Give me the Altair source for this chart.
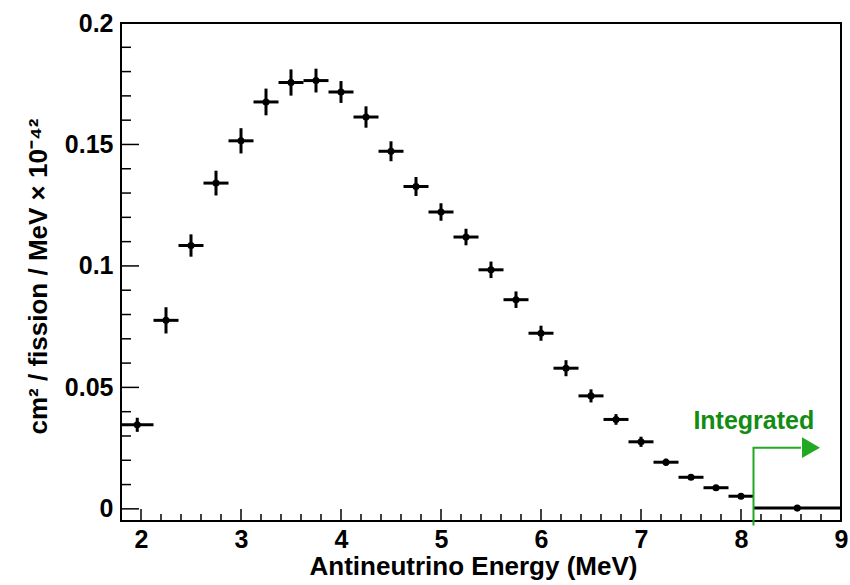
import altair as alt
import pandas as pd
import numpy as np

# ---- data ----
bin_lo = [1.8, 2.125, 2.375, 2.625, 2.875, 3.125, 3.375, 3.625, 3.875, 4.125, 4.375,
          4.625, 4.875, 5.125, 5.375, 5.625, 5.875, 6.125, 6.375, 6.625, 6.875, 7.125,
          7.375, 7.625, 7.875, 8.125]
bin_hi = [2.125, 2.375, 2.625, 2.875, 3.125, 3.375, 3.625, 3.875, 4.125, 4.375, 4.625,
          4.875, 5.125, 5.375, 5.625, 5.875, 6.125, 6.375, 6.625, 6.875, 7.125, 7.375,
          7.625, 7.875, 8.125, 9.0]
centers = [1.9625, 2.25, 2.5, 2.75, 3.0, 3.25, 3.5, 3.75, 4.0, 4.25, 4.5, 4.75, 5.0,
           5.25, 5.5, 5.75, 6.0, 6.25, 6.5, 6.75, 7.0, 7.25, 7.5, 7.75, 8.0, 8.5625]
values = [0.0346, 0.0776, 0.1084, 0.1341, 0.1515, 0.1675, 0.1755, 0.1763, 0.1716,
          0.1613, 0.1472, 0.1327, 0.1222, 0.1119, 0.0984, 0.0861, 0.0723, 0.0579,
          0.0465, 0.0368, 0.0276, 0.0192, 0.0130, 0.0087, 0.0052, 0.0003]
errors = [0.0029, 0.0054, 0.0046, 0.0051, 0.0052, 0.0055, 0.0054, 0.0049, 0.0045,
          0.0044, 0.0041, 0.0039, 0.0036, 0.0034, 0.0034, 0.0034, 0.0031, 0.0033,
          0.0027, 0.0022, 0.0021, 0.0015, 0.0010, 0.0008, 0.0006, 0.0002]

x_major = [2, 3, 4, 5, 6, 7, 8, 9]
y_major = [0, 0.05, 0.1, 0.15, 0.2]
x_minor = [round(v, 2) for v in np.arange(1.8, 9.0001, 0.2) if abs(v - round(v)) > 1e-6]
y_minor = [round(v, 3) for v in np.arange(0, 0.2001, 0.01)
           if abs(v / 0.05 - round(v / 0.05)) > 1e-6]

arrow_x = [8.125, 8.125, 8.6]
arrow_y = [-0.0069, 0.0252, 0.0252]
arrow_head = (8.7, 0.0252)
label_pos = (8.128, 0.0327)

FONT = "Liberation Sans"
GREEN_TXT = "#128c12"
GREEN_LN = "#22a822"
W, H = 720, 498

df = pd.DataFrame({"lo": bin_lo, "hi": bin_hi, "x": centers, "y": values, "e": errors})
df["ylo"] = df["y"] - df["e"]
df["yhi"] = df["y"] + df["e"]

xscale = alt.Scale(domain=[1.8, 9.0], nice=False, zero=False)
yscale = alt.Scale(domain=[-0.005, 0.2], nice=False, zero=False)

xaxis = alt.Axis(values=x_major, title="Antineutrino Energy (MeV)", grid=False, ticks=False,
                 tickSize=0, domain=False, labelFont=FONT, labelFontWeight="bold",
                 labelFontSize=25, labelColor="black", labelPadding=6, labelFlush=False,
                 titleFont=FONT, titleFontWeight="bold", titleFontSize=26, titleColor="black",
                 titleX=352, titleY=53, titleAlign="center", titleBaseline="alphabetic")
yaxis = alt.Axis(values=y_major, format="~g",
                 title="cm² / fission / MeV  ×  10⁻⁴²", grid=False, ticks=False,
                 tickSize=0, domain=False, labelFont=FONT, labelFontWeight="bold",
                 labelFontSize=25, labelColor="black", labelPadding=8, labelFlush=False,
                 titleFont=FONT, titleFontWeight="bold", titleFontSize=26, titleColor="black",
                 titleAngle=270, titleX=-75, titleY=253, titleAlign="center",
                 titleBaseline="alphabetic")

def X(f):
    return alt.X(f, scale=xscale, axis=xaxis)

def Y(f):
    return alt.Y(f, scale=yscale, axis=yaxis)

base = alt.Chart(df)
hbars = base.mark_rule(color="black", strokeWidth=3).encode(
    x=X("lo:Q"), x2="hi:Q", y=Y("y:Q"))
vbars = base.mark_rule(color="black", strokeWidth=3).encode(
    x=X("x:Q"), y=Y("ylo:Q"), y2="yhi:Q")
pts = base.mark_circle(color="black", size=50, opacity=1).encode(
    x=X("x:Q"), y=Y("y:Q"))

def yticks(vals, length):
    return alt.Chart(pd.DataFrame({"v": vals})).mark_rule(color="black", strokeWidth=1.5).encode(
        y=Y("v:Q"), x=alt.value(0), x2=alt.value(length))

def xticks(vals, length):
    return alt.Chart(pd.DataFrame({"v": vals})).mark_rule(color="black", strokeWidth=1.5).encode(
        x=X("v:Q"), y=alt.value(H), y2=alt.value(H - length))

arrow_df = pd.DataFrame({"x": arrow_x, "y": arrow_y, "i": [0, 1, 2]})
arrow = alt.Chart(arrow_df).mark_line(color=GREEN_LN, strokeWidth=2).encode(
    x=X("x:Q"), y=Y("y:Q"), order="i:Q")
head = alt.Chart(pd.DataFrame({"x": [arrow_head[0]], "y": [arrow_head[1]]})).mark_point(
    shape="triangle-right", filled=True, size=430, color=GREEN_LN, opacity=1).encode(
    x=X("x:Q"), y=Y("y:Q"))
label = alt.Chart(pd.DataFrame({"x": [label_pos[0]], "y": [label_pos[1]], "t": ["Integrated"]})).mark_text(
    font=FONT, fontWeight="bold", fontSize=25, color=GREEN_TXT, align="center",
    baseline="alphabetic").encode(x=X("x:Q"), y=Y("y:Q"), text="t:N")

chart = alt.layer(
    hbars, vbars, pts,
    yticks(y_major, 18), yticks(y_minor, 10),
    xticks(x_major, 12), xticks(x_minor, 7),
    arrow, head, label,
).properties(
    width=W, height=H,
    padding={"left": 121, "top": 23, "right": 9, "bottom": 64},
    autosize=alt.AutoSizeParams(type="none"),
    background="white",
).configure_view(stroke="black", strokeWidth=2)

chart.save("out.html", embed_options={"renderer": "svg", "actions": False})
